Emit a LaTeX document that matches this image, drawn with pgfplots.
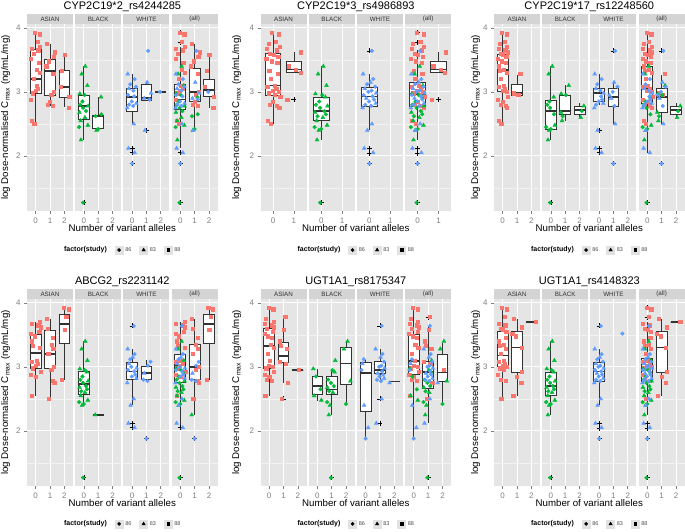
\documentclass[border=0pt]{standalone}
\usepackage{pgfplots}
\pgfplotsset{compat=1.18}
\usepackage{pgfplotstable}
\usepgfplotslibrary{statistics}
\usepackage{fontspec}
\setmainfont{Liberation Sans}

\definecolor{panelgrey}{HTML}{E5E5E5}
\definecolor{stripgrey}{HTML}{D4D4D4}
\definecolor{minorgrid}{HTML}{F2F2F2}
\definecolor{tickgrey}{HTML}{7F7F7F}
\definecolor{boxline}{HTML}{333333}
\definecolor{keygrey}{HTML}{E2E2E2}
\definecolor{cA}{HTML}{F8766D}
\definecolor{cB}{HTML}{00BA38}
\definecolor{cW}{HTML}{619CFF}

% one row per subject: log Cmax, study shape, jitter, genotype for each of the six SNPs
\pgfplotstableread{
y s j g1 g2 g3 g4 g5 g6
3.93 q -0.05 0 0 0 2 0 0
3.90 q 0.28 0 0 0 2 0 0
3.78 q 0.12 0 0 0 2 1 0
3.75 q -0.22 1 0 0 1 0 1
3.70 q 0.30 0 0 0 0 0 2
3.68 q -0.30 0 0 0 0 0 0
3.65 q 0.18 0 0 0 0 0 0
3.62 q 0.33 1 1 0 0 0 1
3.60 q -0.15 0 0 0 1 0 0
3.58 q 0.02 2 0 0 2 1 0
3.55 q 0.25 1 0 0 0 0 0
3.52 q -0.33 0 0 0 0 0 1
3.48 q -0.08 1 0 0 0 0 1
3.45 q 0.20 0 0 0 1 0 0
3.40 q -0.26 1 1 0 0 1 0
3.35 q 0.10 0 1 0 1 0 0
3.33 q -0.18 2 0 0 0 1 0
3.30 q 0.31 0 1 0 0 0 1
3.28 q 0.22 1 0 1 1 1 0
3.20 q -0.12 0 0 0 1 0 0
3.10 q 0.06 0 0 0 0 0 0
3.08 q -0.28 2 0 0 0 1 0
3.05 q 0.15 0 0 0 0 1 0
3.02 q -0.02 0 0 0 0 0 0
3.00 q 0.27 1 0 0 1 0 0
2.98 q -0.21 0 0 1 0 0 0
2.95 q 0.08 1 0 1 1 2 0
2.92 q 0.34 2 0 0 0 0 1
2.88 q -0.32 0 1 0 0 0 0
2.85 q 0.00 1 0 0 0 0 1
2.80 q -0.16 1 0 0 2 0 0
2.78 q 0.19 1 0 0 1 0 0
2.75 q 0.29 2 0 0 1 1 1
2.55 q -0.27 0 0 0 0 0 1
2.50 q -0.10 0 0 0 1 1 0
}\tA

\pgfplotstableread{
y s j g1 g2 g3 g4 g5 g6
3.40 t 0.10 0 0 0 0 2 0
3.28 t -0.15 0 0 0 0 2 0
3.10 t 0.25 0 0 1 0 1 0
2.97 t -0.28 0 0 1 0 0 0
2.95 c 0.05 0 0 1 0 1 0
2.92 t 0.20 1 0 0 0 1 0
2.85 c -0.10 0 0 0 0 0 0
2.80 c -0.25 0 0 0 0 1 0
2.78 t 0.30 0 0 2 0 2 0
2.75 c -0.05 0 0 0 0 1 0
2.70 c 0.15 0 0 2 0 1 0
2.68 t -0.30 0 0 1 0 1 0
2.65 c 0.22 1 0 0 0 0 0
2.62 c -0.18 1 0 1 0 1 0
2.60 t 0.08 0 0 2 0 1 0
2.55 t -0.22 0 0 1 0 0 0
2.48 t 0.28 0 0 0 0 0 0
2.45 c -0.32 0 0 0 0 1 0
2.42 c 0.00 1 0 0 0 2 0
2.40 t -0.12 1 0 0 0 1 0
2.25 t -0.20 0 0 0 1 1 0
1.27 c -0.05 0 0 0 0 1 0
}\tB

\pgfplotstableread{
y s j g1 g2 g3 g4 g5 g6
3.64 c 0.12 1 0 1 0 1 0
3.28 t -0.30 0 0 0 0 1 0
3.20 c 0.18 0 0 0 0 1 0
3.15 t 0.05 1 0 1 0 1 0
3.12 c -0.12 0 0 0 0 0 0
3.08 c 0.28 0 0 1 1 1 0
3.05 t -0.22 0 0 0 0 0 0
3.02 c 0.10 0 0 0 1 1 0
3.00 c -0.05 2 0 1 0 1 0
2.98 t 0.32 1 0 0 0 1 0
2.95 c -0.28 0 0 1 0 0 0
2.93 c 0.15 0 0 0 0 1 0
2.90 t -0.15 1 0 1 1 1 0
2.88 c 0.22 1 0 0 0 1 0
2.85 c -0.02 0 0 0 0 1 0
2.82 t 0.30 0 0 0 0 1 0
2.80 c -0.20 0 0 0 1 1 0
2.78 c 0.08 0 0 1 1 1 0
2.75 t -0.33 0 0 0 0 2 0
2.50 t 0.12 0 0 1 0 1 0
2.40 t -0.10 1 0 0 0 0 0
2.12 t -0.25 0 0 0 0 1 0
2.05 t 0.18 0 0 0 0 0 0
1.88 c 0.00 0 0 1 1 0 0
}\tW

\pgfplotsset{
  facet/.style={
    scale only axis, width=46pt, height=187pt, anchor=south west,
    ymin=1.14, ymax=4.06,
    axis background/.style={fill=panelgrey},
    axis line style={draw=none},
    ytick={2,3,4}, minor ytick={1.5,2.5,3.5},
    grid=both,
    major grid style={white, line width=0.9pt},
    minor grid style={minorgrid, line width=0.45pt},
    tick align=outside, major tick length=3pt, minor tick length=0pt,
    tick style={tickgrey, line width=0.6pt},
    xtick pos=left, ytick pos=left,
    yticklabels={}, ymajorticks=false,
    ticklabel style={font=\fontsize{8}{9}\selectfont, text=tickgrey},
    /pgf/number format/assume math mode=true,
    every axis title/.style={at={(0.5,1)}, anchor=south, fill=stripgrey,
      minimum width=46pt, minimum height=9.5pt, inner sep=0pt,
      font=\fontsize{6.3}{7}\selectfont, text=black!80},
  },
  first/.style={ymajorticks=true, yticklabels={2,3,4}},
  three/.style={xmin=-0.6, xmax=2.6, xtick={0,1,2}, xticklabels={0,1,2}},
  two/.style={xmin=-0.6, xmax=1.6, xtick={0,1}, xticklabels={0,1}},
  boxst/.style={draw=boxline, fill=white, line width=0.8pt,
    boxplot/draw direction=y,
    boxplot/box extend=0.75, boxplot/whisker extend=0,
    boxplot/every median/.style={line width=1.6pt}},
  olst/.style={only marks, mark=+, mark size=2.5pt, black, line width=0.65pt},
  pts/.style={only marks, scatter, point meta=explicit symbolic,
    scatter/classes={q={mark=square*, mark size=1.6pt, #1},
      c={mark=*, mark size=1.85pt, #1}, t={mark=triangle*, mark size=2.25pt, #1}}},
  legax/.style={hide axis, scale only axis, width=190.6pt, height=187pt,
    anchor=south west, xmin=0, xmax=1, ymin=0, ymax=1,
    legend columns=-1,
    legend style={draw=none, fill=none, font=\fontsize{5.5}{6}\selectfont,
      text=black!70, anchor=center, inner sep=0pt,
      /tikz/every even column/.append style={column sep=6pt}},
    legend image code/.code={\fill[keygrey] (0pt,-4pt) rectangle (8pt,4pt);
      \draw[##1] plot coordinates {(4pt,0pt)};},
  },
}

\newcommand\bx[6]{\addplot[boxst, boxplot prepared={draw position=#1,
  lower whisker=#2, lower quartile=#3, median=#4, upper quartile=#5,
  upper whisker=#6}] coordinates {};}
\newcommand\ol[1]{\addplot[olst] coordinates {#1};}
\newcommand\pts[3]{\addplot[pts=#1] table[x expr=\thisrow{#2}+\thisrow{j}, y=y, meta=s] {#3};}
\newcommand\allpts[1]{\pts{cA}{#1}{\tA}\pts{cB}{#1}{\tB}\pts{cW}{#1}{\tW}}
\newcommand\legendat[3]{%
\begin{axis}[legax, at={(#1,#2)}, legend style={at={(0.5,#3)}}]
\addlegendimage{empty legend}\addlegendentry{\fontsize{7}{8}\selectfont\bfseries\color{black} factor(study)}
\addlegendimage{only marks, mark=*, mark size=1.6pt, black}\addlegendentry{86}
\addlegendimage{only marks, mark=triangle*, mark size=2pt, black}\addlegendentry{83}
\addlegendimage{only marks, mark=square*, mark size=1.4pt, black}\addlegendentry{88}
\end{axis}}

\begin{document}
\begin{tikzpicture}
\path[use as bounding box] (0,0) rectangle (685pt,531pt);

% ---------------- panel 1: CYP2C19*2
\begin{axis}[facet, first, three, at={(27pt,320pt)}, title={ASIAN}]
\bx{0}{2.50}{2.97}{3.20}{3.67}{3.93}
\bx{1}{2.78}{2.95}{3.33}{3.50}{3.74}
\bx{2}{2.76}{2.92}{3.08}{3.34}{3.58}
\pts{cA}{g1}{\tA}
\end{axis}
\begin{axis}[facet, three, at={(75.2pt,320pt)}, title={BLACK}]
\bx{0}{2.25}{2.57}{2.78}{2.95}{3.40}
\bx{1}{2.40}{2.43}{2.62}{2.63}{2.92}
\ol{(0,1.27)}
\pts{cB}{g1}{\tB}
\end{axis}
\begin{axis}[facet, three, at={(123.4pt,320pt)}, title={WHITE}]
\bx{0}{2.50}{2.70}{2.92}{3.05}{3.28}
\bx{1}{2.86}{2.86}{2.90}{3.12}{3.14}
\bx{2}{3.00}{3.00}{3.00}{3.00}{3.00}
\ol{(0,2.12)(0,2.05)(0,1.88)(1,2.40)}
\pts{cW}{g1}{\tW}
\end{axis}
\begin{axis}[facet, three, at={(171.6pt,320pt)}, title={(all)}]
\bx{0}{2.12}{2.73}{2.88}{3.12}{3.70}
\bx{1}{2.40}{2.85}{3.00}{3.37}{3.74}
\bx{2}{2.75}{2.93}{3.03}{3.20}{3.58}
\ol{(0,3.93)(0,3.77)(0,2.05)(0,1.88)(0,1.27)}
\allpts{g1}
\end{axis}
\legendat{27pt}{320pt}{-0.2086}

% ---------------- panel 2: CYP2C19*3
\begin{axis}[facet, first, two, at={(260.5pt,320pt)}, title={ASIAN}]
\bx{0}{2.50}{2.95}{3.10}{3.60}{3.93}
\bx{1}{3.30}{3.30}{3.35}{3.47}{3.63}
\ol{(1,2.88)}
\pts{cA}{g2}{\tA}
\end{axis}
\begin{axis}[facet, two, at={(308.7pt,320pt)}, title={BLACK}]
\bx{0}{2.25}{2.55}{2.70}{2.92}{3.40}
\ol{(0,1.27)}
\pts{cB}{g2}{\tB}
\end{axis}
\begin{axis}[facet, two, at={(356.9pt,320pt)}, title={WHITE}]
\bx{0}{2.40}{2.77}{2.93}{3.07}{3.28}
\ol{(0,3.64)(0,2.12)(0,2.04)(0,1.88)}
\pts{cW}{g2}{\tW}
\end{axis}
\begin{axis}[facet, two, at={(405.1pt,320pt)}, title={(all)}]
\bx{0}{2.25}{2.77}{2.97}{3.15}{3.65}
\bx{1}{3.30}{3.30}{3.35}{3.47}{3.63}
\ol{(0,3.93)(0,3.77)(0,2.12)(0,2.04)(0,1.88)(0,1.27)(1,2.88)}
\allpts{g2}
\end{axis}
\legendat{260.5pt}{320pt}{-0.2086}

% ---------------- panel 3: CYP2C19*17
\begin{axis}[facet, first, three, at={(494pt,320pt)}, title={ASIAN}]
\bx{0}{2.50}{3.00}{3.34}{3.59}{3.93}
\bx{1}{2.95}{2.95}{2.98}{3.12}{3.27}
\pts{cA}{g3}{\tA}
\end{axis}
\begin{axis}[facet, three, at={(542.2pt,320pt)}, title={BLACK}]
\bx{0}{2.25}{2.42}{2.70}{2.87}{3.40}
\bx{1}{2.55}{2.65}{2.70}{2.95}{3.10}
\bx{2}{2.60}{2.65}{2.72}{2.77}{2.83}
\ol{(0,1.27)}
\pts{cB}{g3}{\tB}
\end{axis}
\begin{axis}[facet, three, at={(590.4pt,320pt)}, title={WHITE}]
\bx{0}{2.80}{2.85}{2.98}{3.05}{3.28}
\bx{1}{2.50}{2.77}{2.92}{3.05}{3.15}
\ol{(0,2.40)(0,2.12)(0,2.05)(1,3.64)(1,1.88)}
\pts{cW}{g3}{\tW}
\end{axis}
\begin{axis}[facet, three, at={(638.6pt,320pt)}, title={(all)}]
\bx{0}{2.05}{2.82}{3.05}{3.40}{3.93}
\bx{1}{2.50}{2.68}{2.92}{3.05}{3.27}
\bx{2}{2.60}{2.65}{2.72}{2.77}{2.83}
\ol{(0,1.27)(1,3.64)(1,1.88)}
\allpts{g3}
\end{axis}
\legendat{494pt}{320pt}{-0.2086}

% ---------------- panel 4: ABCG2
\begin{axis}[facet, first, three, at={(27pt,45pt)}, title={ASIAN}]
\bx{0}{2.55}{2.97}{3.22}{3.50}{3.70}
\bx{1}{2.50}{2.97}{3.20}{3.57}{3.74}
\bx{2}{2.80}{3.37}{3.67}{3.82}{3.93}
\pts{cA}{g4}{\tA}
\end{axis}
\begin{axis}[facet, three, at={(75.2pt,45pt)}, title={BLACK}]
\bx{0}{2.40}{2.57}{2.73}{2.93}{3.40}
\bx{1}{2.25}{2.25}{2.25}{2.25}{2.25}
\ol{(0,1.27)}
\pts{cB}{g4}{\tB}
\end{axis}
\begin{axis}[facet, three, at={(123.4pt,45pt)}, title={WHITE}]
\bx{0}{2.40}{2.80}{2.93}{3.07}{3.28}
\bx{1}{2.80}{2.80}{2.90}{3.00}{3.10}
\ol{(0,3.64)(0,2.12)(0,2.05)(1,1.88)}
\pts{cW}{g4}{\tW}
\end{axis}
\begin{axis}[facet, three, at={(171.6pt,45pt)}, title={(all)}]
\bx{0}{2.10}{2.75}{3.03}{3.20}{3.70}
\bx{1}{2.25}{2.80}{3.00}{3.35}{3.74}
\bx{2}{2.80}{3.37}{3.67}{3.82}{3.93}
\ol{(0,2.05)(0,1.27)(1,1.88)}
\allpts{g4}
\end{axis}
\legendat{27pt}{45pt}{-0.203}

% ---------------- panel 5: UGT1A1 rs8175347
\begin{axis}[facet, first, three, at={(260.5pt,45pt)}, title={ASIAN}]
\bx{0}{2.55}{2.97}{3.33}{3.60}{3.93}
\bx{1}{2.75}{3.07}{3.17}{3.38}{3.77}
\bx{2}{2.95}{2.95}{2.95}{2.95}{2.95}
\ol{(1,2.50)}
\pts{cA}{g5}{\tA}
\end{axis}
\begin{axis}[facet, three, at={(308.7pt,45pt)}, title={BLACK}]
\bx{0}{2.47}{2.57}{2.70}{2.85}{2.97}
\bx{1}{2.25}{2.57}{2.65}{2.85}{2.95}
\bx{2}{2.43}{2.72}{3.05}{3.30}{3.40}
\ol{(1,1.27)}
\pts{cB}{g5}{\tB}
\end{axis}
\begin{axis}[facet, three, at={(356.9pt,45pt)}, title={WHITE}]
\bx{0}{1.88}{2.30}{2.90}{3.07}{3.10}
\bx{1}{2.75}{2.90}{2.95}{3.08}{3.28}
\bx{2}{2.77}{2.77}{2.77}{2.77}{2.77}
\ol{(1,3.64)(1,2.50)(1,2.12)}
\pts{cW}{g5}{\tW}
\end{axis}
\begin{axis}[facet, three, at={(405.1pt,45pt)}, title={(all)}]
\bx{0}{1.88}{2.88}{3.09}{3.50}{3.93}
\bx{1}{2.12}{2.66}{2.92}{3.09}{3.63}
\bx{2}{2.44}{2.78}{2.91}{3.19}{3.38}
\ol{(1,3.77)(1,1.27)}
\allpts{g5}
\end{axis}
\legendat{260.5pt}{45pt}{-0.203}

% ---------------- panel 6: UGT1A1 rs4148323
\begin{axis}[facet, first, three, at={(494pt,45pt)}, title={ASIAN}]
\bx{0}{2.50}{3.00}{3.18}{3.55}{3.93}
\bx{1}{2.55}{2.92}{3.30}{3.55}{3.74}
\bx{2}{3.70}{3.70}{3.70}{3.70}{3.70}
\pts{cA}{g6}{\tA}
\end{axis}
\begin{axis}[facet, three, at={(542.2pt,45pt)}, title={BLACK}]
\bx{0}{2.25}{2.55}{2.70}{2.92}{3.40}
\ol{(0,1.27)}
\pts{cB}{g6}{\tB}
\end{axis}
\begin{axis}[facet, three, at={(590.4pt,45pt)}, title={WHITE}]
\bx{0}{2.40}{2.77}{2.93}{3.07}{3.28}
\ol{(0,3.64)(0,2.12)(0,2.04)(0,1.88)}
\pts{cW}{g6}{\tW}
\addplot[only marks, mark=*, mark size=1.85pt, cW] coordinates {(1.62,3.52)};
\end{axis}
\begin{axis}[facet, three, at={(638.6pt,45pt)}, title={(all)}]
\bx{0}{2.25}{2.77}{3.00}{3.13}{3.70}
\bx{1}{2.55}{2.92}{3.30}{3.55}{3.74}
\bx{2}{3.70}{3.70}{3.70}{3.70}{3.70}
\ol{(0,3.93)(0,3.77)(0,2.12)(0,2.04)(0,1.88)(0,1.27)}
\allpts{g6}
\end{axis}
\legendat{494pt}{45pt}{-0.203}

% ---------------- titles and axis titles
\begin{scope}[every node/.style={font=\fontsize{11}{13}\selectfont, anchor=base}]
\node at (122.3pt,521.5pt) {CYP2C19*2\_rs4244285};
\node at (355.8pt,521.5pt) {CYP2C19*3\_rs4986893};
\node at (589.3pt,521.5pt) {CYP2C19*17\_rs12248560};
\node at (122.3pt,247pt) {ABCG2\_rs2231142};
\node at (355.8pt,247pt) {UGT1A1\_rs8175347};
\node at (589.3pt,247pt) {UGT1A1\_rs4148323};
\end{scope}
\begin{scope}[every node/.style={font=\fontsize{9.7}{11}\selectfont, anchor=base}]
\node at (122.3pt,299.5pt) {Number of variant alleles};
\node at (355.8pt,299.5pt) {Number of variant alleles};
\node at (589.3pt,299.5pt) {Number of variant alleles};
\node at (122.3pt,25pt) {Number of variant alleles};
\node at (355.8pt,25pt) {Number of variant alleles};
\node at (589.3pt,25pt) {Number of variant alleles};
\end{scope}
\begin{scope}[every node/.style={font=\fontsize{9.7}{11}\selectfont, rotate=90, anchor=center}]
\node at (5.5pt,413.5pt) {log Dose-normalised C\textsubscript{max} (ng/mL/mg)};
\node at (236.5pt,413.5pt) {log Dose-normalised C\textsubscript{max} (ng/mL/mg)};
\node at (475.5pt,413.5pt) {log Dose-normalised C\textsubscript{max} (ng/mL/mg)};
\node at (5.5pt,138.5pt) {log Dose-normalised C\textsubscript{max} (ng/mL/mg)};
\node at (236.5pt,138.5pt) {log Dose-normalised C\textsubscript{max} (ng/mL/mg)};
\node at (475.5pt,138.5pt) {log Dose-normalised C\textsubscript{max} (ng/mL/mg)};
\end{scope}
\end{tikzpicture}
\end{document}
